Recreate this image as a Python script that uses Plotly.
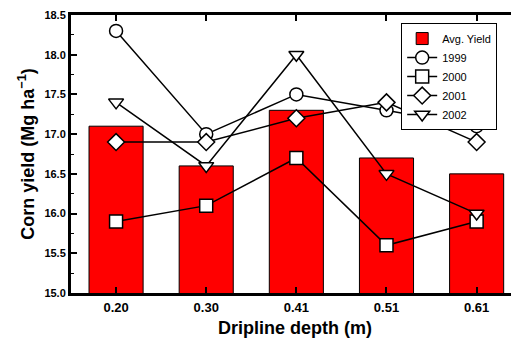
import plotly.graph_objects as go

categories = ["0.20", "0.30", "0.41", "0.51", "0.61"]
avg_yield = [17.1, 16.6, 17.3, 16.7, 16.5]
y1999 = [18.3, 17.0, 17.5, 17.3, 17.1]
y2000 = [15.9, 16.1, 16.7, 15.6, 15.9]
y2001 = [16.9, 16.9, 17.2, 17.4, 16.9]
y2002 = [17.4, 16.6, 18.0, 16.5, 16.0]
y_ticks = [15.0, 15.5, 16.0, 16.5, 17.0, 17.5, 18.0, 18.5]
y_minor = [15.25, 15.75, 16.25, 16.75, 17.25, 17.75, 18.25]

FONT = "Liberation Sans, Arial, sans-serif"

fig = go.Figure()
fig.add_trace(go.Bar(x=categories, y=avg_yield, name="Avg. Yield", width=0.6,
                     marker=dict(color="#ff0000", line=dict(color="#000000", width=1))))
series = [("1999", y1999, "circle"), ("2000", y2000, "square"),
          ("2001", y2001, "diamond"), ("2002", y2002, "triangle-down")]
for name, vals, sym in series:
    fig.add_trace(go.Scatter(x=categories, y=vals, name=name, mode="lines+markers",
                             line=dict(color="#000000", width=1.5),
                             marker=dict(symbol=sym, size=13, color="white",
                                         line=dict(color="#000000", width=1.5))))

fig.update_layout(
    width=511, height=337,
    margin=dict(l=63, r=0, t=7, b=52, autoexpand=False),
    plot_bgcolor="white", paper_bgcolor="white",
    font=dict(family=FONT, color="#000000"),
    showlegend=True,
    legend=dict(x=0.737, y=0.971, xanchor="left", yanchor="top",
                bordercolor="#000000", borderwidth=1, bgcolor="white",
                font=dict(size=11, family=FONT), tracegroupgap=0, itemwidth=30),
    xaxis=dict(type="category", range=[-0.5, 4.47], automargin=False,
               tickvals=categories, ticktext=[f"<b>{c}</b>" for c in categories],
               showline=True, linecolor="#000000", linewidth=3, mirror="ticks",
               ticks="inside", ticklen=6, tickwidth=1.5, tickcolor="#000000",
               tickfont=dict(size=13, family=FONT),
               title=dict(text="<b>Dripline depth (m)</b>", standoff=8,
                          font=dict(size=18, family=FONT)),
               showgrid=False, zeroline=False),
    yaxis=dict(range=[15, 18.5], tickvals=y_ticks, automargin=False,
               ticktext=[f"<b>{v:.1f}</b>" for v in y_ticks],
               showline=True, linecolor="#000000", linewidth=3, mirror="ticks",
               ticks="inside", ticklen=6, tickwidth=2, tickcolor="#000000",
               minor=dict(tickvals=y_minor, ticks="inside", ticklen=3,
                          tickwidth=1, tickcolor="#000000"),
               tickfont=dict(size=11, family=FONT),
               title=dict(text="<b>Corn yield (Mg ha<sup>−1</sup>)</b>", standoff=6,
                          font=dict(size=18, family=FONT)),
               showgrid=False, zeroline=False),
)
fig.write_html("out.html")
